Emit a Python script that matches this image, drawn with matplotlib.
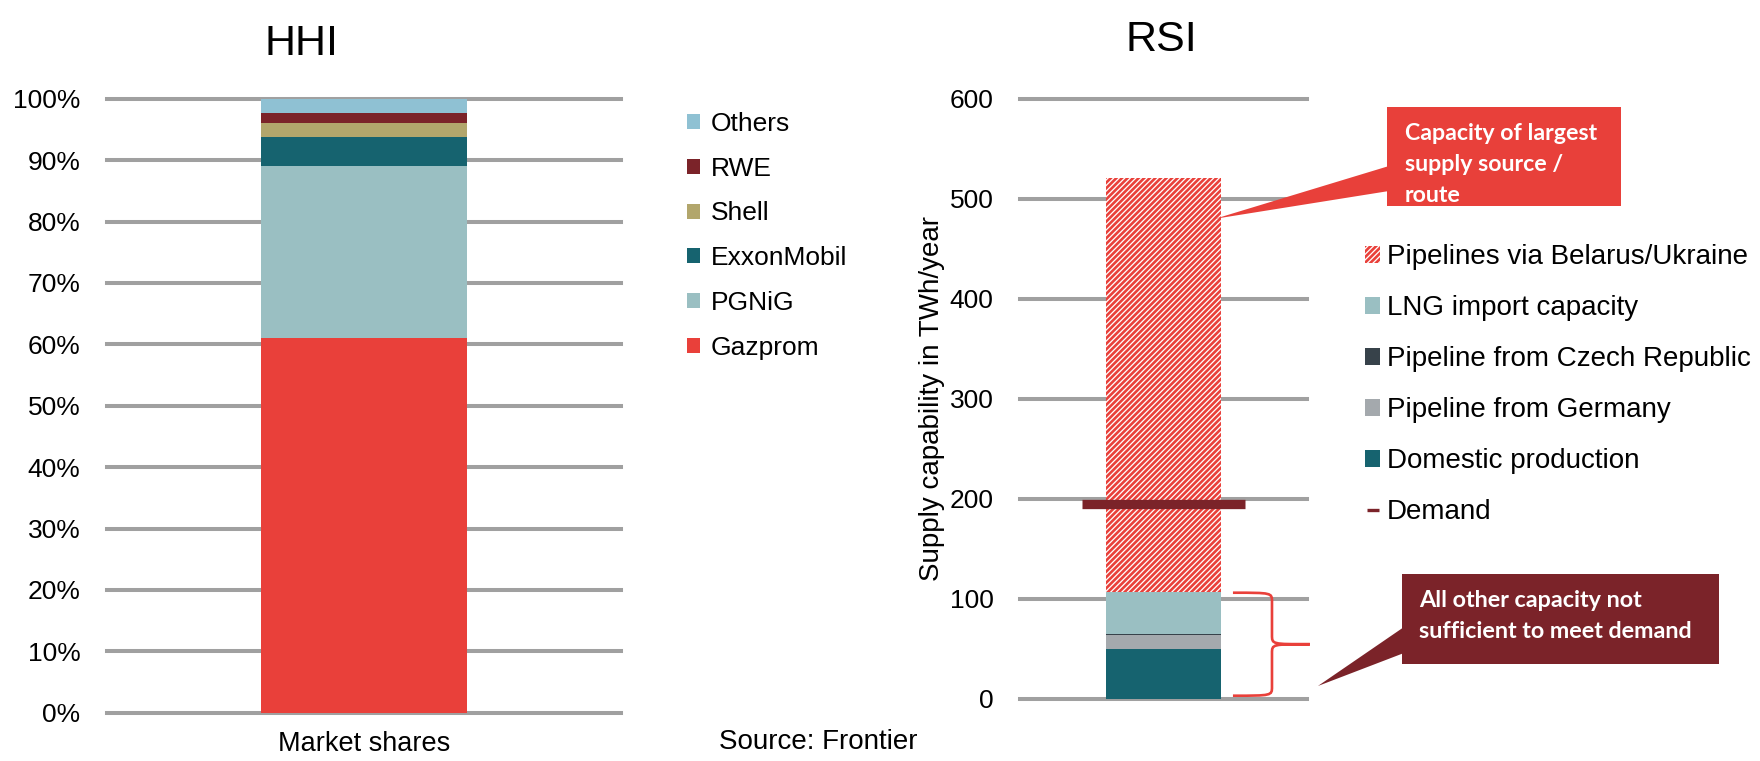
import matplotlib
matplotlib.use('Agg')
import matplotlib.pyplot as plt
from matplotlib.patches import Patch, Rectangle, Polygon, PathPatch
from matplotlib.lines import Line2D
from matplotlib.path import Path
from matplotlib.transforms import blended_transform_factory

plt.rcParams['font.family'] = ['Liberation Sans', 'DejaVu Sans']
plt.rcParams['hatch.linewidth'] = 1.9

# ---------------- data ----------------
hhi_companies = ['Gazprom', 'PGNiG', 'ExxonMobil', 'Shell', 'RWE', 'Others']
hhi_shares = [61.0, 28.0, 4.8, 2.3, 1.6, 2.3]
hhi_colors = ['#E9403A', '#9ABFC2', '#16636F', '#B2A66C', '#7B2329', '#8FC1D3']
hhi_category = 'Market shares'
hhi_ticks = [0, 10, 20, 30, 40, 50, 60, 70, 80, 90, 100]

rsi_sources = ['Domestic production', 'Pipeline from Germany',
               'Pipeline from Czech Republic', 'LNG import capacity',
               'Pipelines via Belarus/Ukraine']
rsi_values = [50, 14, 1, 42, 414]
rsi_colors = ['#16636F', '#A4A9AD', '#37424A', '#9ABFC2', '#E9403A']
rsi_hatched = [False, False, False, False, True]
rsi_demand = 195
rsi_ticks = [0, 100, 200, 300, 400, 500, 600]

callout_top = ['Capacity of largest', 'supply source /', 'route']
callout_bottom = ['All other capacity not', 'sufficient to meet demand']

GRID = '#A0A0A0'
HATCH = '//////'
W, H = 1760, 761

fig = plt.figure(figsize=(W / 100, H / 100), dpi=100)

def frac_rect(x0, y0, x1, y1):
    return [x0 / W, (H - y1) / H, (x1 - x0) / W, (y1 - y0) / H]

# ---------------- HHI ----------------
ax1 = fig.add_axes(frac_rect(107, 98.8, 621, 712.7))
ax1.set_xlim(-0.745, 0.745)
ax1.set_ylim(0, 100)
for t in hhi_ticks:
    ax1.axhline(t, color=GRID, lw=2.9, zorder=0, clip_on=False)
bottom = 0
for name, val, col in zip(hhi_companies, hhi_shares, hhi_colors):
    ax1.bar(0, val, width=0.6, bottom=bottom, color=col, linewidth=0, zorder=2, label=name)
    bottom += val
ax1.set_yticks(hhi_ticks)
ax1.set_yticklabels([f'{t}%' for t in hhi_ticks])
ax1.set_xticks([0])
ax1.set_xticklabels([hhi_category])
ax1.tick_params(axis='y', length=0, pad=19, labelsize=19)
ax1.tick_params(axis='x', length=0, pad=13, labelsize=19.5)
for s in ax1.spines.values():
    s.set_visible(False)
ax1.patch.set_visible(False)

h1 = [Patch(facecolor=c, linewidth=0) for c in hhi_colors][::-1]
fig.legend(h1, hhi_companies[::-1], loc='upper left',
           bbox_to_anchor=(687 / W, (H - 112) / H), bbox_transform=fig.transFigure,
           frameon=False, fontsize=19, borderpad=0, borderaxespad=0,
           handlelength=0.5, handleheight=0.5, handletextpad=0.4,
           labelspacing=0.785)

# ---------------- RSI ----------------
ax2 = fig.add_axes(frac_rect(1020, 98.8, 1307, 698.7))
ax2.set_xlim(-0.75, 0.75)
ax2.set_ylim(0, 600)
for t in rsi_ticks:
    ax2.axhline(t, color=GRID, lw=2.9, zorder=0, clip_on=False)
bottom = 0
h2 = {}
for name, val, col, hat in zip(rsi_sources, rsi_values, rsi_colors, rsi_hatched):
    if hat:
        ax2.bar(0, val, width=0.6, bottom=bottom, facecolor='white',
                edgecolor=col, hatch=HATCH, linewidth=0, zorder=2)
        h2[name] = Patch(facecolor='white', edgecolor=col, hatch=HATCH, linewidth=0)
    else:
        ax2.bar(0, val, width=0.6, bottom=bottom, color=col, linewidth=0, zorder=2)
        h2[name] = Patch(facecolor=col, linewidth=0)
    bottom += val
ax2.hlines(rsi_demand, -0.426, 0.426, color='#7B2329', lw=6.7, zorder=3)
ax2.set_yticks(rsi_ticks)
ax2.set_yticklabels([str(t) for t in rsi_ticks])
ax2.set_xticks([])
ax2.tick_params(axis='y', length=0, pad=19, labelsize=19)
ax2.set_ylabel('Supply capability in TWh/year', fontsize=20)
ax2.yaxis.set_label_coords(-0.262, 0.5)
for s in ax2.spines.values():
    s.set_visible(False)
ax2.patch.set_visible(False)

leg_order = rsi_sources[::-1]
demand_handle = Line2D([], [], color='#7B2329', marker='_', linestyle='None',
                       markersize=9, markeredgewidth=2.4)
handles2 = [h2[n] for n in leg_order] + [demand_handle]
labels2 = leg_order + ['Demand']
fig.legend(handles2, labels2, loc='upper left',
           bbox_to_anchor=(1365 / W, (H - 244) / H), bbox_transform=fig.transFigure,
           frameon=False, fontsize=20, borderpad=0, borderaxespad=0,
           handlelength=0.55, handleheight=0.55, handletextpad=0.25,
           labelspacing=0.9)

# brace for "all other capacity"
other_total = sum(rsi_values[:-1])
bt = blended_transform_factory(ax2.transAxes, ax2.transData)
x0, x1, x2 = 0.742, 0.878, 1.01
yt, yb = other_total - 1, 3
ym = (yt + yb) / 2
d = 9
verts = [(x0, yt), (x1, yt), (x1, yt), (x1, yt - d),
         (x1, ym + d),
         (x1, ym), (x1, ym), (x2, ym),
         (x1, ym), (x1, ym), (x1, ym - d),
         (x1, yb + d),
         (x1, yb), (x1, yb), (x0, yb)]
codes = [Path.MOVETO, Path.CURVE4, Path.CURVE4, Path.CURVE4,
         Path.LINETO,
         Path.CURVE4, Path.CURVE4, Path.CURVE4,
         Path.CURVE4, Path.CURVE4, Path.CURVE4,
         Path.LINETO,
         Path.CURVE4, Path.CURVE4, Path.CURVE4]
ax2.add_patch(PathPatch(Path(verts, codes), facecolor='none', edgecolor='#E9403A',
                        lw=1.9, transform=bt, clip_on=False, zorder=4))

# ---------------- overlay for titles / callouts ----------------
ov = fig.add_axes([0, 0, 1, 1], zorder=10)
ov.set_xlim(0, W)
ov.set_ylim(H, 0)
ov.axis('off')
ov.patch.set_visible(False)

ov.text(301, 55, 'HHI', fontsize=31, ha='center', va='baseline')
ov.text(1161, 51, 'RSI', fontsize=31, ha='center', va='baseline')
ov.text(818, 742, 'Source: Frontier', fontsize=20, ha='center', va='center')

def to_ov(xy, trans):
    return ov.transData.inverted().transform(trans.transform(xy))

tip1 = to_ov((0.27, 480), ax2.transData)
tip2 = to_ov((1.038, 12.7), bt)

red = '#E8403A'
dark = '#7B2329'
ov.add_patch(Rectangle((1387, 107), 234, 99, facecolor=red, edgecolor='none'))
ov.add_patch(Polygon([(1389, 166), tuple(tip1), (1389, 191)], closed=True,
                     facecolor=red, edgecolor='none'))
for i, line in enumerate(callout_top):
    ov.text(1405, 140 + 31 * i, line, fontsize=16.7, color='white',
            fontweight='bold', family=['Lato', 'DejaVu Sans'], va='baseline')

ov.add_patch(Rectangle((1402, 574), 317, 90, facecolor=dark, edgecolor='none'))
ov.add_patch(Polygon([(1404, 627), tuple(tip2), (1404, 653)], closed=True,
                     facecolor=dark, edgecolor='none'))
for i, line in enumerate(callout_bottom):
    ov.text(1419, 607 + 31 * i, line, fontsize=16.8, color='white',
            fontweight='bold', family=['Lato', 'DejaVu Sans'], va='baseline')

fig.savefig('out.png', dpi=100)
